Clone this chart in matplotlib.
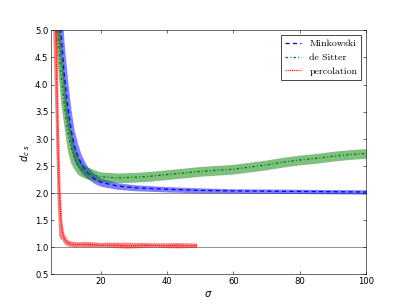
import numpy as np
import matplotlib
matplotlib.use('Agg')
import matplotlib.pyplot as plt

# Minkowski
sig_mink = [7, 8, 9, 10, 11, 12, 13, 14, 15, 16, 18, 20, 25, 30, 40, 50, 60, 70, 80, 90, 100]
d_mink = [5.7, 5.0, 4.2, 3.65, 3.2, 2.88, 2.7, 2.56, 2.46, 2.38, 2.27, 2.2, 2.13, 2.10, 2.07,
          2.05, 2.04, 2.035, 2.03, 2.025, 2.02]
err_mink = [0.75, 0.65, 0.55, 0.45, 0.36, 0.28, 0.22, 0.17, 0.14, 0.11, 0.09, 0.075, 0.06, 0.055,
            0.05, 0.045, 0.04, 0.04, 0.04, 0.04, 0.04]

# de Sitter
sig_ds = [6, 7, 8, 9, 10, 11, 12, 13, 14, 15, 16, 18, 20, 25, 30, 35, 40, 45, 50, 55, 60, 65,
          70, 75, 80, 85, 90, 95, 100]
d_ds = [5.9, 5.0, 4.2, 3.65, 3.15, 2.85, 2.66, 2.52, 2.45, 2.40, 2.37, 2.33, 2.30, 2.28, 2.29,
        2.31, 2.34, 2.37, 2.40, 2.42, 2.44, 2.48, 2.52, 2.57, 2.61, 2.64, 2.68, 2.71, 2.73]
err_ds = [0.75, 0.65, 0.55, 0.45, 0.38, 0.3, 0.22, 0.17, 0.14, 0.12, 0.11, 0.1, 0.09, 0.09,
          0.09, 0.09, 0.09, 0.09, 0.09, 0.09, 0.09, 0.09, 0.09, 0.09, 0.09, 0.09, 0.09, 0.09, 0.09]

# percolation
sig_perc = [5.5, 6, 6.5, 7, 7.5, 8, 8.5, 9, 10, 11, 12, 14, 16, 18, 20, 22, 25, 28, 30, 33,
            36, 40, 43, 46, 49]
d_perc = [8.0, 6.3, 5.0, 3.3, 2.1, 1.55, 1.28, 1.16, 1.08, 1.06, 1.05, 1.05, 1.05, 1.045, 1.04,
          1.04, 1.035, 1.03, 1.03, 1.035, 1.035, 1.03, 1.03, 1.03, 1.03]
err_perc = [2.5, 2.0, 1.8, 1.4, 0.9, 0.4, 0.15, 0.09, 0.06, 0.05, 0.05, 0.045, 0.05, 0.045,
            0.04, 0.045, 0.05, 0.055, 0.05, 0.045, 0.04, 0.045, 0.05, 0.045, 0.04]

# (plot) -----------------------------------------------------------------------
dpi = 50.875
fig = plt.figure(figsize=(8, 6), dpi=dpi)
ax = fig.add_subplot(111)

ax.axhline(1.0, color='gray', lw=1.2, zorder=1)
ax.axhline(2.0, color='gray', lw=1.2, zorder=1)

series = [
    (sig_mink, d_mink, err_mink, 'b', (0, (3.3, 2.5)), 'Minkowski'),
    (sig_ds, d_ds, err_ds, 'g', (0, (2, 1.7, 0.8, 1.7)), 'de Sitter'),
    (sig_perc, d_perc, err_perc, 'r', (0, (0.8, 0.9)), 'percolation'),
]
for s, d, e, c, ls, lab in series:
    s, d, e = np.array(s), np.array(d), np.array(e)
    ax.fill_between(s, d - e, d + e, color=c, alpha=0.5, lw=0, zorder=2)
for s, d, e, c, ls, lab in series:
    ax.plot(s, d, color=c, ls=ls, lw=1.8, label=lab, zorder=3)

ax.set_xlim(5, 100)
ax.set_ylim(0.5, 5.0)
ax.set_xticks([20, 40, 60, 80, 100])
ax.set_yticks(np.arange(0.5, 5.01, 0.5))
ax.tick_params(direction='in', top=True, right=True, labelsize=12, length=4)
ax.set_xlabel(r'$\sigma$', fontsize=14)
ax.set_ylabel(r'$d_{c\ s}$', fontsize=14)

leg = ax.legend(loc='upper right', prop={'family': 'cmr10', 'size': 14},
                fancybox=False, edgecolor='k', framealpha=1, handlelength=1.7)
leg.get_frame().set_linewidth(1)

fig.subplots_adjust(left=0.125, right=0.9, bottom=0.1, top=0.9)
fig.savefig('out.png', dpi=dpi)
